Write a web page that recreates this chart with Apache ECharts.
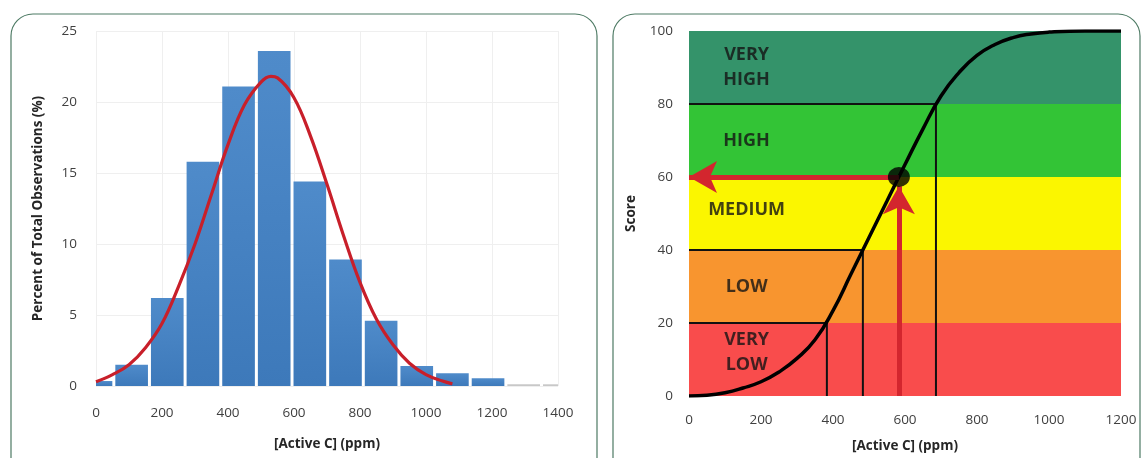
<!DOCTYPE html>
<html>
<head>
<meta charset="utf-8">
<script src="https://cdn.jsdelivr.net/npm/echarts@6/dist/echarts.min.js"></script>
<style>
  html, body { margin: 0; padding: 0; background: #fff; }
  #main { width: 1145px; height: 458px; }
</style>
</head>
<body>
<div id="main"></div>
<script>
// histogram (left): bin centres in ppm and percent of observations
var binWidth = 108;
var binCenters = [0, 108, 216, 324, 432, 540, 648, 756, 864, 972, 1080, 1188, 1296, 1404];
var binPercents = [0.35, 1.5, 6.2, 15.8, 21.1, 23.6, 14.4, 8.9, 4.6, 1.4, 0.9, 0.55, 0.12, 0.12];

// fitted curve
var fitX = [0, 50, 100, 150, 200, 250, 300, 350, 400, 450, 500, 530, 550, 600, 650, 700, 750, 800, 850, 900, 950, 1000, 1050, 1080];
var fitY = [0.3, 0.8, 1.5, 2.7, 4.4, 7.0, 10.0, 13.5, 17.0, 19.8, 21.4, 21.8, 21.7, 20.3, 17.6, 14.2, 10.6, 7.3, 4.7, 2.9, 1.6, 0.8, 0.35, 0.15];

// scoring curve (right)
var scoreX = [0, 50, 100, 150, 200, 250, 300, 350, 400, 450, 500, 550, 600, 650, 700, 750, 800, 850, 900, 950, 1000, 1100, 1200];
var scoreY = [0, 0.2, 0.9, 2.2, 3.9, 6.6, 10.3, 15.4, 23.4, 33.4, 43.4, 53.4, 63.4, 73.2, 82.2, 88.6, 93.3, 96.3, 98.2, 99.2, 99.7, 100, 100];

var bandEdges = [0, 20, 40, 60, 80, 100];
var bandColors = ['#f94c4c', '#f8952f', '#fbf600', '#33c436', '#34936a'];
var bandNames = ['VERY\nLOW', 'LOW', 'MEDIUM', 'HIGH', 'VERY\nHIGH'];
var bandLabelScore = [12, 30, 51, 70, 90];
var bandLabelConc = 160;

// thresholds drawn as elbow lines
var thrConc = [383, 483, 686];
var thrScore = [20, 40, 80];

// example reading
var readConc = 583;
var readScore = 60;

var font = 'Open Sans';
var myChart = echarts.init(document.getElementById('main'));

var barFill = new echarts.graphic.LinearGradient(0, 0, 0, 1, [
    { offset: 0, color: '#4f8bca' },
    { offset: 1, color: '#3d79ba' }
]);

var bandArea = [];
for (var i = 0; i < bandColors.length; i++) {
    bandArea.push([
        { yAxis: bandEdges[i], itemStyle: { color: bandColors[i] } },
        { yAxis: bandEdges[i + 1] }
    ]);
}

var series = [
    {
        type: 'custom',
        xAxisIndex: 0, yAxisIndex: 0,
        data: binCenters.map(function (c, i) { return [c, binPercents[i]]; }),
        renderItem: function (params, api) {
            var c = api.value(0), v = api.value(1);
            var p0 = api.coord([c - binWidth / 2, v]);
            var p1 = api.coord([c + binWidth / 2, 0]);
            var cs = params.coordSys;
            var rect = echarts.graphic.clipRectByRect({
                x: p0[0] + 1.5, y: p0[1],
                width: p1[0] - p0[0] - 3, height: p1[1] - p0[1]
            }, { x: cs.x, y: cs.y, width: cs.width, height: cs.height });
            if (!rect) return;
            return {
                type: 'rect',
                shape: rect,
                style: { fill: v < 0.2 ? '#c8c8c8' : barFill }
            };
        },
        z: 2
    },
    {
        type: 'line',
        xAxisIndex: 0, yAxisIndex: 0,
        data: fitX.map(function (x, i) { return [x, fitY[i]]; }),
        smooth: 0.4,
        showSymbol: false,
        lineStyle: { color: '#c81f2a', width: 3.2 },
        z: 3
    },
    {
        type: 'line',
        xAxisIndex: 1, yAxisIndex: 1,
        data: [],
        markArea: { silent: true, data: bandArea },
        z: 1
    }
];

thrConc.forEach(function (c, i) {
    series.push({
        type: 'line',
        xAxisIndex: 1, yAxisIndex: 1,
        data: [[0, thrScore[i]], [c, thrScore[i]], [c, 0]],
        showSymbol: false,
        lineStyle: { color: '#111', width: 2 },
        z: 3
    });
});

series.push({
    type: 'line',
    xAxisIndex: 1, yAxisIndex: 1,
    data: scoreX.map(function (x, i) { return [x, scoreY[i]]; }),
    smooth: 0.5,
    showSymbol: false,
    lineStyle: { color: '#000', width: 3.5 },
    z: 5
});

series.push({
    type: 'scatter',
    xAxisIndex: 1, yAxisIndex: 1,
    data: [[readConc, readScore]],
    symbolSize: [22, 20],
    itemStyle: { color: '#000' },
    z: 7,
    markLine: {
        silent: true,
        symbol: ['none', 'arrow'],
        symbolSize: [24, 28],
        label: { show: false },
        lineStyle: { color: '#d3262e', width: 5, type: 'solid' },
        data: [
            [{ coord: [readConc, readScore] }, { coord: [0, readScore] }],
            [{ coord: [readConc, 0] }, { coord: [readConc, readScore - 2.5] }]
        ],
        z: 6
    }
});

series.push({
    type: 'scatter',
    xAxisIndex: 1, yAxisIndex: 1,
    data: bandNames.map(function (n, i) { return [bandLabelConc, bandLabelScore[i], n]; }),
    symbolSize: 0,
    silent: true,
    label: {
        show: true,
        position: 'inside',
        formatter: function (p) { return p.data[2]; },
        fontFamily: font,
        fontWeight: 'bold',
        fontSize: 18,
        lineHeight: 25,
        color: '#141414'
    },
    z: 8
});

var titleText = { fontFamily: font, fontSize: 13.5, fontWeight: 'bold', color: '#262626' };
var plain = function (v) { return String(v); };

var option = {
    animation: false,
    backgroundColor: '#fff',
    graphic: [
        { type: 'rect', shape: { x: 11, y: 14, width: 586, height: 470, r: 22 },
          style: { fill: 'none', stroke: '#4d7a64', lineWidth: 1.2 }, z: 0 },
        { type: 'rect', shape: { x: 613, y: 14, width: 527, height: 470, r: 22 },
          style: { fill: 'none', stroke: '#4d7a64', lineWidth: 1.2 }, z: 0 }
    ],
    grid: [
        { left: 96, right: 587, top: 31, bottom: 72 },
        { left: 689, right: 24, top: 31, bottom: 60 }
    ],
    xAxis: [
        {
            gridIndex: 0, type: 'value', min: 0, max: 1400, interval: 200,
            name: '[Active C] (ppm)', nameLocation: 'middle', nameGap: 51,
            nameTextStyle: titleText,
            axisLine: { show: false }, axisTick: { show: false },
            axisLabel: { margin: 20, fontFamily: font, fontSize: 13.5, color: '#404040', formatter: plain },
            splitLine: { show: true, lineStyle: { color: '#efefef', width: 1 } }
        },
        {
            gridIndex: 1, type: 'value', min: 0, max: 1200, interval: 200,
            name: '[Active C] (ppm)', nameLocation: 'middle', nameGap: 43,
            nameTextStyle: titleText,
            axisLine: { show: false }, axisTick: { show: false },
            axisLabel: { margin: 17, fontFamily: font, fontSize: 13.5, color: '#404040', formatter: plain },
            splitLine: { show: false }
        }
    ],
    yAxis: [
        {
            gridIndex: 0, type: 'value', min: 0, max: 25, interval: 5,
            name: 'Percent of Total Observations (%)', nameLocation: 'middle', nameGap: 51,
            nameTextStyle: titleText,
            axisLine: { show: false }, axisTick: { show: false },
            axisLabel: { margin: 19, fontFamily: font, fontSize: 13.5, color: '#404040' },
            splitLine: { show: true, lineStyle: { color: '#efefef', width: 1 } }
        },
        {
            gridIndex: 1, type: 'value', min: 0, max: 100, interval: 20,
            name: 'Score', nameLocation: 'middle', nameGap: 51,
            nameTextStyle: titleText,
            axisLine: { show: false }, axisTick: { show: false },
            axisLabel: { margin: 16, fontFamily: font, fontSize: 13.5, color: '#404040' },
            splitLine: { show: false }
        }
    ],
    series: series
};

myChart.setOption(option);
</script>
</body>
</html>
